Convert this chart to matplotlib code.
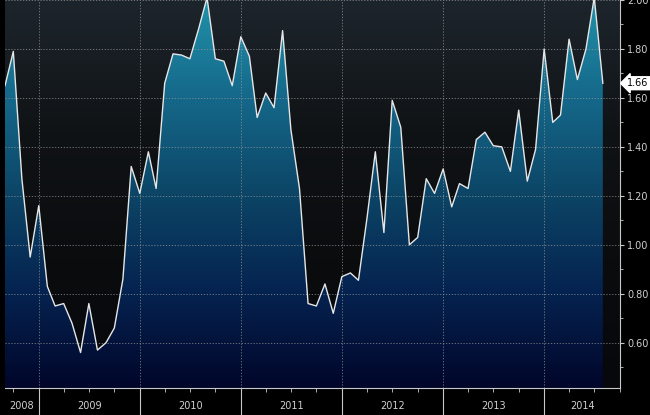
import numpy as np
import pandas as pd
import matplotlib
matplotlib.use("Agg")
import matplotlib.pyplot as plt
import matplotlib.dates as mdates
from matplotlib.colors import LinearSegmentedColormap
from matplotlib.transforms import blended_transform_factory


# monthly values, Sep 2008 .. Aug 2014
start_month = "2008-09-01"
values = [
    1.65, 1.79, 1.27, 0.95,
    1.16, 0.83, 0.75, 0.76, 0.68, 0.56, 0.76, 0.57, 0.60, 0.66, 0.86, 1.32,
    1.21, 1.38, 1.23, 1.66, 1.78, 1.775, 1.76, 1.88, 2.01, 1.76, 1.75, 1.65,
    1.85, 1.77, 1.52, 1.62, 1.56, 1.875, 1.47, 1.23, 0.76, 0.75, 0.84, 0.72,
    0.87, 0.885, 0.855, 1.11, 1.38, 1.05, 1.59, 1.48, 1.00, 1.03, 1.27, 1.21,
    1.31, 1.155, 1.25, 1.23, 1.43, 1.46, 1.405, 1.40, 1.30, 1.55, 1.26, 1.39,
    1.80, 1.50, 1.53, 1.84, 1.675, 1.80, 2.01, 1.66,
]
years = [2008, 2009, 2010, 2011, 2012, 2013, 2014]
ytick_vals = [0.60, 0.80, 1.00, 1.20, 1.40, 1.60, 1.80, 2.00]

dates = pd.date_range(start_month, periods=len(values), freq="MS")

fig = plt.figure(figsize=(6.5, 4.15), dpi=100, facecolor="black")
ax = fig.add_axes([5 / 650, 27 / 415, 615 / 650, 388 / 415])

x0 = mdates.date2num(pd.Timestamp("2008-09-01"))
x1 = mdates.date2num(pd.Timestamp("2014-10-02"))
y0, y1 = 0.415, 2.0
ax.set_xlim(x0, x1)
ax.set_ylim(y0, y1)

# background gradient (above the curve)
bg_cmap = LinearSegmentedColormap.from_list(
    "bg", ["#07080c", "#0b0c0e", "#101316", "#1d252c"])
grad = np.linspace(0, 1, 256).reshape(-1, 1)
ax.imshow(grad, cmap=bg_cmap, origin="lower", aspect="auto",
          extent=[x0, x1, y0, y1], zorder=0)

# area fill gradient
fill_cmap = LinearSegmentedColormap.from_list(
    "fill", [(0, "#01062a"), (0.25, "#052350"), (0.5, "#0c4566"),
             (0.75, "#15688a"), (1.0, "#2191aa")])
poly = ax.fill_between(dates, values, y0, facecolor="none", edgecolor="none")
im = ax.imshow(grad, cmap=fill_cmap, origin="lower", aspect="auto",
               extent=[x0, x1, y0, y1], zorder=1)
im.set_clip_path(poly.get_paths()[0], transform=ax.transData)

ax.plot(dates, values, color="#e6e6e6", lw=1.0, zorder=3)

# grid
for yv in ytick_vals:
    ax.axhline(yv, color="#9a9a9a", lw=0.6, ls=(0, (1.5, 2)), zorder=2, alpha=0.8)
for yr in years[1:]:
    ax.axvline(mdates.date2num(pd.Timestamp(f"{yr}-01-01")), color="#9a9a9a",
               lw=0.6, ls=(0, (1.5, 2)), zorder=2, alpha=0.8)

# spines
for s in ["top", "left"]:
    ax.spines[s].set_visible(False)
for s in ["bottom", "right"]:
    ax.spines[s].set_color("#c8c8c8")
    ax.spines[s].set_linewidth(0.8)

# y axis on the right
ax.yaxis.tick_right()
ax.set_yticks(ytick_vals)
ax.set_yticklabels([f"{v:.2f}" for v in ytick_vals])
ax.set_yticks(np.arange(0.5, 2.0, 0.2), minor=True)
ax.tick_params(axis="y", which="major", length=3, width=0.8, color="#c8c8c8",
               labelcolor="#d0d0d0", labelsize=7, pad=2)
ax.tick_params(axis="y", which="minor", length=2, width=0.6, color="#c8c8c8")

# x axis: long ticks at year boundaries, short ticks at quarters
ax.xaxis.set_major_locator(mdates.YearLocator())
ax.xaxis.set_minor_locator(mdates.MonthLocator(bymonth=[4, 7, 10]))
ax.xaxis.set_major_formatter(plt.NullFormatter())
ax.tick_params(axis="x", which="major", length=22, width=0.8, color="#c8c8c8")
ax.tick_params(axis="x", which="minor", length=3, width=0.6, color="#c8c8c8")

trans = blended_transform_factory(ax.transData, ax.transAxes)
for yr in years:
    a = max(x0, mdates.date2num(pd.Timestamp(f"{yr}-01-01")))
    b = min(x1, mdates.date2num(pd.Timestamp(f"{yr + 1}-01-01")))
    ax.text((a + b) / 2, -0.046, str(yr), transform=trans, ha="center",
            va="center", color="#d0d0d0", fontsize=7)

# last value tag
ytrans = blended_transform_factory(ax.transAxes, ax.transData)
ax.text(1.012, values[-1], f"{values[-1]:.2f}", transform=ytrans, ha="left",
        va="center", fontsize=7, color="black",
        bbox=dict(boxstyle="larrow,pad=0.15", fc="white", ec="white"))

fig.savefig("out.png", dpi=100, facecolor="black")
